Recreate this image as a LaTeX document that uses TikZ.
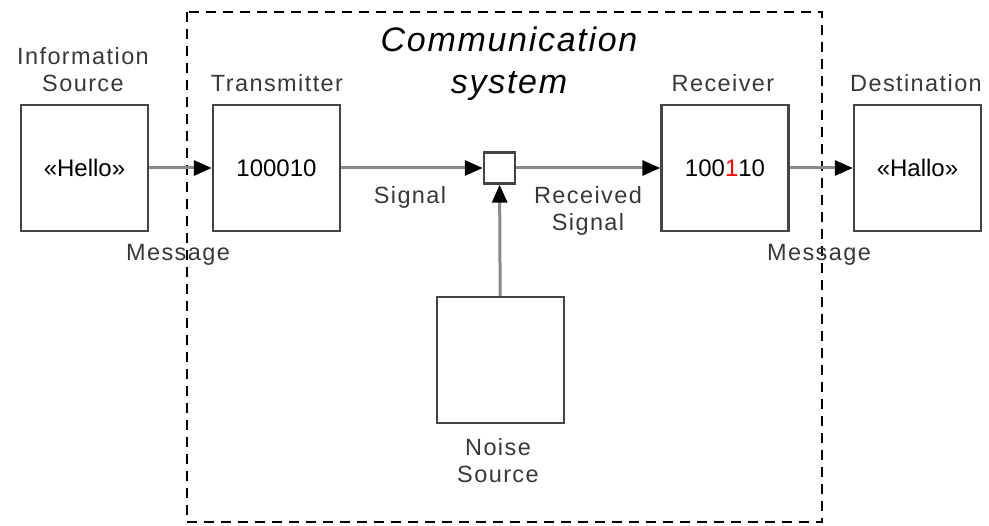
\documentclass[tikz,border=0pt]{standalone}
\usepackage{fontspec}
\setmainfont{Liberation Sans}
\newfontfamily\lblfont{Liberation Sans}[LetterSpace=6]
\newfontfamily\ttlfont{Liberation Sans}[LetterSpace=5]
\usepackage{xcolor}
\usetikzlibrary{arrows.meta,positioning,calc}
\definecolor{boxgray}{HTML}{444444}
\definecolor{linegray}{HTML}{8A8A8A}
\definecolor{txtgray}{HTML}{383838}

\begin{document}
\begin{tikzpicture}[x=1pt, y=-1pt]
            \tikzset{
                blk/.style={draw=boxgray, line width=2.4pt, fill=white, minimum width=127pt, minimum height=126pt, inner sep=0pt, font=\fontsize{24}{28}\selectfont},
                lbl/.style={text=txtgray, align=center, inner sep=0pt, font=\lblfont\fontsize{23.5}{27}\selectfont},
                wire/.style={draw=linegray, line width=3pt, -{Triangle[length=18pt, width=15pt, color=black]}}
            }
            \useasboundingbox (0,0) rectangle (989,526);

            % ---- COMMUNICATION SYSTEM ----
            \draw[line width=2pt, dash pattern=on 10pt off 7pt] (187,12) rectangle (822,522);
            \node[inner sep=0pt, align=center, font=\ttlfont\itshape\fontsize{34}{42}\selectfont] (title) at (509,64) {Communication\\system};

            % ---- BLOCKS ----
            \node[blk] (src) at (84.5,168) {«Hello»};
            \node[blk] (tx) at (276.5,168) {100010};
            \node[blk] (rx) at (725,168) {100{\color{red}1}10};
            \node[blk] (dst) at (917.5,168) {«Hallo»};
            \node[blk] (noise) at (500.5,360) {};
            \node[draw=boxgray, line width=2.4pt, fill=white, minimum size=31pt, inner sep=0pt] (mix) at (499.5,168) {};

            % ---- BLOCK NAMES ----
            \node[lbl] (srcname) at (83,70) {Information\\Source};
            \node[lbl] (txname) at (277,83) {Transmitter};
            \node[lbl] (rxname) at (723,83) {Receiver};
            \node[lbl] (dstname) at (916,83) {Destination};
            \node[lbl] (noisename) at (498,461) {Noise\\Source};

            % ---- CONNECTORS ----
            \draw[wire] (src) -- (tx);
            \draw[wire] (tx) -- (mix);
            \draw[wire] (mix) -- (rx);
            \draw[wire] (rx) -- (dst);
            \draw[wire] (noise) -- (mix);

            % ---- CONNECTOR LABELS ----
            \node[lbl] (msgin) at (178,255) {Message};
            \node[lbl] (sig) at (410,197) {Signal};
            \node[lbl] (rsig) at (588,211) {Received\\Signal};
            \node[lbl] (msgout) at (819,255) {Message};

        \end{tikzpicture}
\end{document}
